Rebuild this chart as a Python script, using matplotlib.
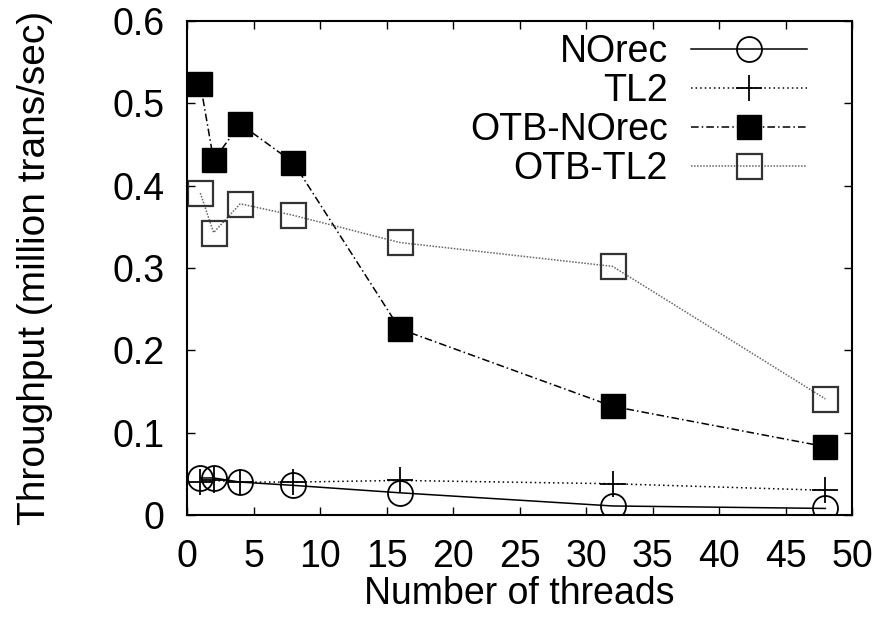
import matplotlib
matplotlib.use("Agg")
import matplotlib.pyplot as plt

# thread counts and throughput (million trans/sec)
threads = [1, 2, 4, 8, 16, 32, 48]
norec = [0.045, 0.045, 0.040, 0.036, 0.027, 0.011, 0.008]
tl2 = [0.040, 0.042, 0.040, 0.040, 0.042, 0.038, 0.030]
otb_norec = [0.524, 0.431, 0.475, 0.428, 0.226, 0.132, 0.083]
otb_tl2 = [0.391, 0.343, 0.378, 0.364, 0.331, 0.302, 0.141]

plt.rcParams['font.family'] = ['Liberation Sans', 'DejaVu Sans']
plt.rcParams['font.size'] = 27

fig = plt.figure(figsize=(8.83, 6.31), dpi=100)
ax = fig.add_axes([0.2118, 0.1838, 0.7531, 0.7829])

ax.plot(threads, norec, color='black', linestyle='-', linewidth=1.1,
        marker='o', markersize=18, markerfacecolor='none', markeredgewidth=1.3, label='NOrec')
ax.plot(threads, tl2, color='black', linestyle=(0, (1, 2)), linewidth=1.1,
        marker='+', markersize=19, markeredgewidth=1.3, label='TL2')
ax.plot(threads, otb_norec, color='black', linestyle=(0, (5, 2, 1, 2)), linewidth=1.1,
        marker='s', markersize=17.5, markerfacecolor='black', label='OTB-NOrec')
ax.plot(threads, otb_tl2, color='#666666', linestyle=(0, (1, 1)), linewidth=1.1,
        marker='s', markersize=18, markerfacecolor='none', markeredgecolor='#333333',
        markeredgewidth=1.6, label='OTB-TL2')

ax.set_xlim(0, 50)
ax.set_ylim(0, 0.6)
ax.set_xticks(range(0, 51, 5))
ax.set_yticks([0, 0.1, 0.2, 0.3, 0.4, 0.5, 0.6])
ax.set_yticklabels(['0', '0.1', '0.2', '0.3', '0.4', '0.5', '0.6'])
ax.tick_params(direction='in', top=True, right=True, length=6, width=1)
ax.tick_params(axis='x', pad=17)
ax.tick_params(axis='y', pad=16)
for s in ax.spines.values():
    s.set_linewidth(1.5)

ax.set_xlabel('Number of threads', labelpad=1)
ax.set_ylabel('Throughput (million trans/sec)', labelpad=43, fontsize=28)

leg = ax.legend(loc='upper right', bbox_to_anchor=(0.932, 0.974), frameon=False,
                markerfirst=False, handlelength=3.1, handletextpad=0.6,
                labelspacing=0.08, borderpad=0, borderaxespad=0, fontsize=27)
for t in leg.get_texts():
    t.set_horizontalalignment('right')

fig.savefig('out.png', dpi=100)
